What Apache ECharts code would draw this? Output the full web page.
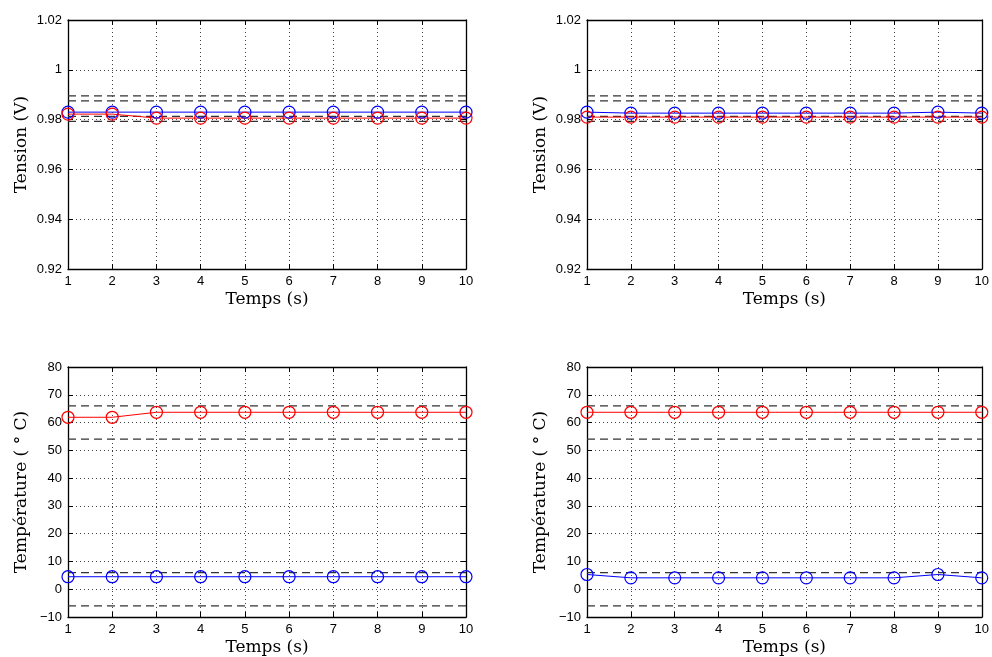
<!DOCTYPE html>
<html><head><meta charset="utf-8">
<script src="https://cdn.jsdelivr.net/npm/echarts@6/dist/echarts.min.js"></script>
<style>html,body{margin:0;padding:0;background:#fff}#c{width:992px;height:657px}</style>
</head><body><div id="c"></div>
<script>
const times = [1,2,3,4,5,6,7,8,9,10];
const tensionTicks = [0.92,0.94,0.96,0.98,1,1.02];
const tempTicks = [-10,0,10,20,30,40,50,60,70,80];

const tensionBlueLeft  = [0.9830,0.9830,0.9830,0.9830,0.9830,0.9830,0.9830,0.9830,0.9830,0.9830];
const tensionRedLeft   = [0.9822,0.9822,0.9806,0.9806,0.9806,0.9806,0.9806,0.9806,0.9806,0.9806];
const tensionBlueRight = [0.9830,0.9826,0.9826,0.9826,0.9826,0.9826,0.9826,0.9826,0.9830,0.9826];
const tensionRedRight  = [0.9810,0.9810,0.9810,0.9810,0.9810,0.9810,0.9810,0.9810,0.9810,0.9810];
const tensionLimits    = [0.9895,0.9875,0.9813,0.9793];

const tempRedLeft   = [61.9,61.9,63.7,63.7,63.7,63.7,63.7,63.7,63.7,63.7];
const tempBlueLeft  = [4.5,4.5,4.5,4.5,4.5,4.5,4.5,4.5,4.5,4.5];
const tempRedRight  = [63.7,63.7,63.7,63.7,63.7,63.7,63.7,63.7,63.7,63.7];
const tempBlueRight = [5.3,4.1,4.1,4.1,4.1,4.1,4.1,4.1,5.3,4.1];
const tempLimits    = [66,54,6,-6];

const panels = [
  {left:68, top:20, h:249, yname:'Tension (V)', ticks:tensionTicks, blue:tensionBlueLeft, red:tensionRedLeft, lim:tensionLimits},
  {left:587,top:20, h:249, yname:'Tension (V)', ticks:tensionTicks, blue:tensionBlueRight, red:tensionRedRight, lim:tensionLimits},
  {left:68, top:367,h:250, yname:'Température ( \u00B0 C)', ticks:tempTicks, blue:tempBlueLeft, red:tempRedLeft, lim:tempLimits},
  {left:587,top:367,h:250, yname:'Température ( \u00B0 C)', ticks:tempTicks, blue:tempBlueRight, red:tempRedRight, lim:tempLimits}
];

const labelFont = {fontFamily:'Liberation Sans, Arial, sans-serif', fontSize:13, color:'#000'};
const nameFont = {fontFamily:'DejaVu Serif, serif', fontSize:17, color:'#000'};
const gridLine = {show:true, lineStyle:{type:[1,3], color:'#444', width:1}};
const axisLine = {show:true, onZero:false, lineStyle:{color:'#000', width:1.3}};
const tickIn = {show:true, inside:true, length:5, lineStyle:{color:'#000'}};

function fmtY(v){
  let s = String(Math.round(v*1000)/1000);
  return s.replace('-', '\u2212');
}

const grid=[], xAxis=[], yAxis=[], series=[];
panels.forEach((p,i)=>{
  grid.push({left:p.left, top:p.top, width:398, height:p.h});
  const tmin = p.ticks[0], tmax = p.ticks[p.ticks.length-1];
  const step = Math.round((p.ticks[1]-p.ticks[0])*1000)/1000;
  xAxis.push({type:'value', gridIndex:i, min:times[0], max:times[times.length-1], interval:1,
    axisLine, axisTick:tickIn, splitLine:gridLine,
    axisLabel:Object.assign({margin:6}, labelFont),
    name:'Temps (s)', nameLocation:'middle', nameGap:22, nameTextStyle:nameFont});
  yAxis.push({type:'value', gridIndex:i, min:tmin, max:tmax, interval:step,
    axisLine, axisTick:tickIn, splitLine:gridLine,
    axisLabel:Object.assign({margin:6, formatter:fmtY}, labelFont),
    name:p.yname, nameLocation:'middle', nameGap:38, nameRotate:90, nameTextStyle:nameFont});
});
panels.forEach((p,i)=>{
  const tmin = p.ticks[0], tmax = p.ticks[p.ticks.length-1];
  const step = Math.round((p.ticks[1]-p.ticks[0])*1000)/1000;
  xAxis.push({type:'value', gridIndex:i, position:'top', min:times[0], max:times[times.length-1], interval:1,
    axisLine, axisTick:tickIn, splitLine:{show:false}, axisLabel:{show:false}});
  yAxis.push({type:'value', gridIndex:i, position:'right', min:tmin, max:tmax, interval:step,
    axisLine, axisTick:tickIn, splitLine:{show:false}, axisLabel:{show:false}});
});
panels.forEach((p,i)=>{
  p.lim.forEach(v=>{
    series.push({type:'line', xAxisIndex:i, yAxisIndex:i,
      data:[[times[0],v],[times[times.length-1],v]], symbol:'none', silent:true,
      lineStyle:{type:[8,5], color:'#333', width:1.3}});
  });
  series.push({type:'line', xAxisIndex:i, yAxisIndex:i, data:times.map((t,k)=>[t,p.blue[k]]),
    symbol:'circle', symbolSize:12, lineStyle:{color:'#0000ff', width:1},
    itemStyle:{color:'rgba(0,0,0,0)', borderColor:'#0000ff', borderWidth:1.2}});
  series.push({type:'line', xAxisIndex:i, yAxisIndex:i, data:times.map((t,k)=>[t,p.red[k]]),
    symbol:'circle', symbolSize:12, lineStyle:{color:'#ff0000', width:1},
    itemStyle:{color:'rgba(0,0,0,0)', borderColor:'#ff0000', borderWidth:1.2}});
});

const chart = echarts.init(document.getElementById('c'), null, {renderer:'canvas'});
chart.setOption({animation:false, backgroundColor:'#fff', grid, xAxis, yAxis, series});
</script></body></html>
